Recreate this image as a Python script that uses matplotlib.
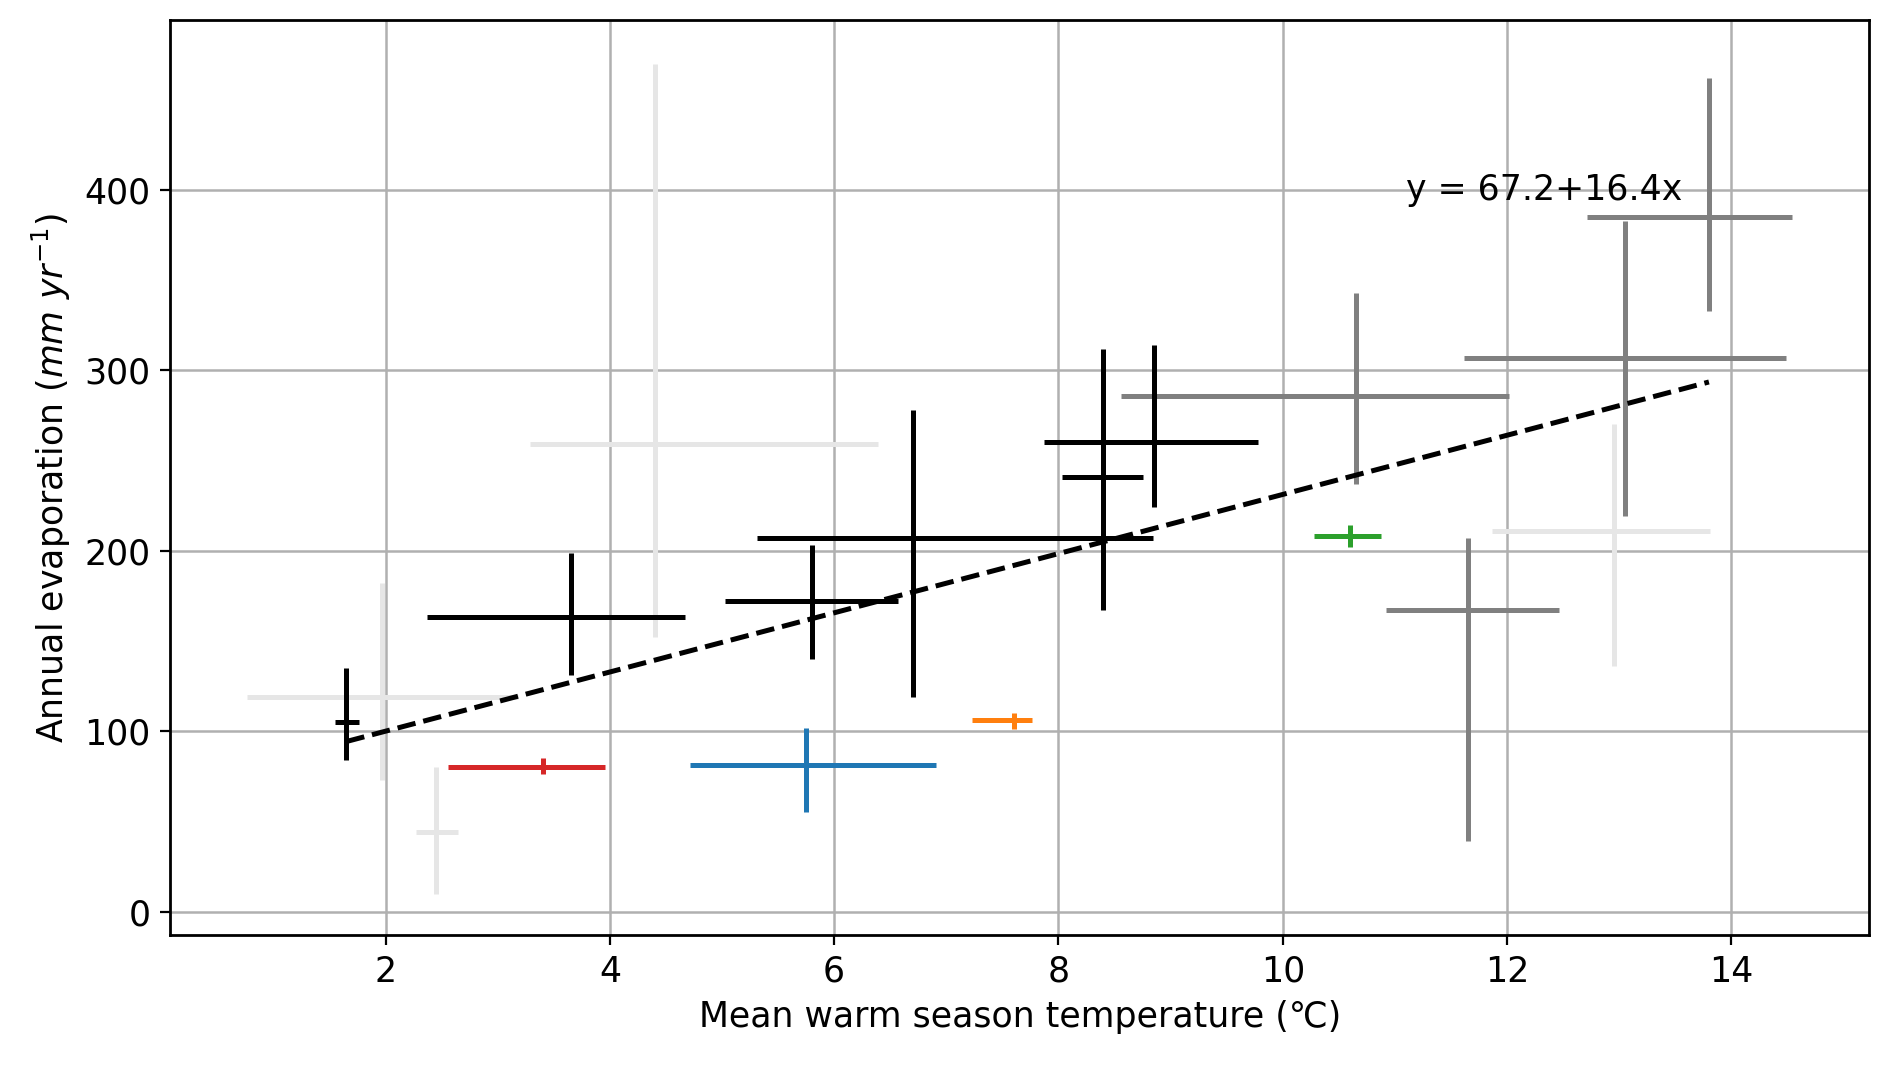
import matplotlib
matplotlib.use("Agg")
import matplotlib.pyplot as plt
import numpy as np

# centre x, centre y, x low/high, y low/high, colour
x_c = [1.97, 2.45, 4.4, 12.95, 10.65, 13.05, 13.8, 11.65,
       1.65, 3.65, 5.8, 6.7, 8.4, 8.85, 3.4, 5.75, 7.6, 10.6]
y_c = [119, 44, 259, 211, 286, 307, 385, 167,
       105, 163, 172, 207, 241, 260, 80, 81, 106, 208]
x_lo = [0.76, 2.27, 3.29, 11.87, 8.56, 11.62, 12.71, 10.92,
        1.55, 2.37, 5.03, 5.31, 8.03, 7.87, 2.56, 4.71, 7.23, 10.28]
x_hi = [3.18, 2.65, 6.39, 13.81, 12.02, 14.49, 14.54, 12.46,
        1.76, 4.67, 6.57, 8.84, 8.75, 9.78, 3.96, 6.91, 7.76, 10.88]
y_lo = [73, 10, 152, 136, 237, 219, 333, 39,
        84, 131, 140, 119, 167, 224, 76, 55, 101, 202]
y_hi = [182, 80, 470, 270, 343, 383, 462, 207,
        135, 199, 203, 278, 312, 314, 85, 102, 110, 214]
colors = ["#e6e6e6"] * 4 + ["#808080"] * 4 + ["black"] * 6 + \
         ["#d62728", "#1f77b4", "#ff7f0e", "#2ca02c"]

intercept, slope = 67.2, 16.4
fit_x = np.array([1.65, 13.8])

fig, ax = plt.subplots(figsize=(9.46, 5.325), dpi=200)
for i in range(len(x_c)):
    ax.errorbar(x_c[i], y_c[i],
                xerr=[[x_c[i] - x_lo[i]], [x_hi[i] - x_c[i]]],
                yerr=[[y_c[i] - y_lo[i]], [y_hi[i] - y_c[i]]],
                fmt="none", ecolor=colors[i], elinewidth=1.8, zorder=3)
ax.plot(fit_x, intercept + slope * fit_x, "k--", lw=1.8, zorder=4)
ax.text(11.1, 400, f"y = {intercept}+{slope}x", fontsize=12.5, va="center")

ax.set_xlim(0.08, 15.23)
ax.set_ylim(-13, 494)
ax.set_xticks([2, 4, 6, 8, 10, 12, 14])
ax.set_yticks([0, 100, 200, 300, 400])
ax.grid(True, color="#b0b0b0", lw=0.9)
ax.set_axisbelow(True)
ax.tick_params(labelsize=12.5)
for s in ax.spines.values():
    s.set_linewidth(1.0)
ax.set_xlabel("Mean warm season temperature (℃)", fontsize=12.5)
ax.set_ylabel(r"Annual evaporation ($mm\ yr^{-1}$)", fontsize=12.5)
fig.subplots_adjust(left=0.09, right=0.988, top=0.981, bottom=0.122)
fig.savefig("out.png")
